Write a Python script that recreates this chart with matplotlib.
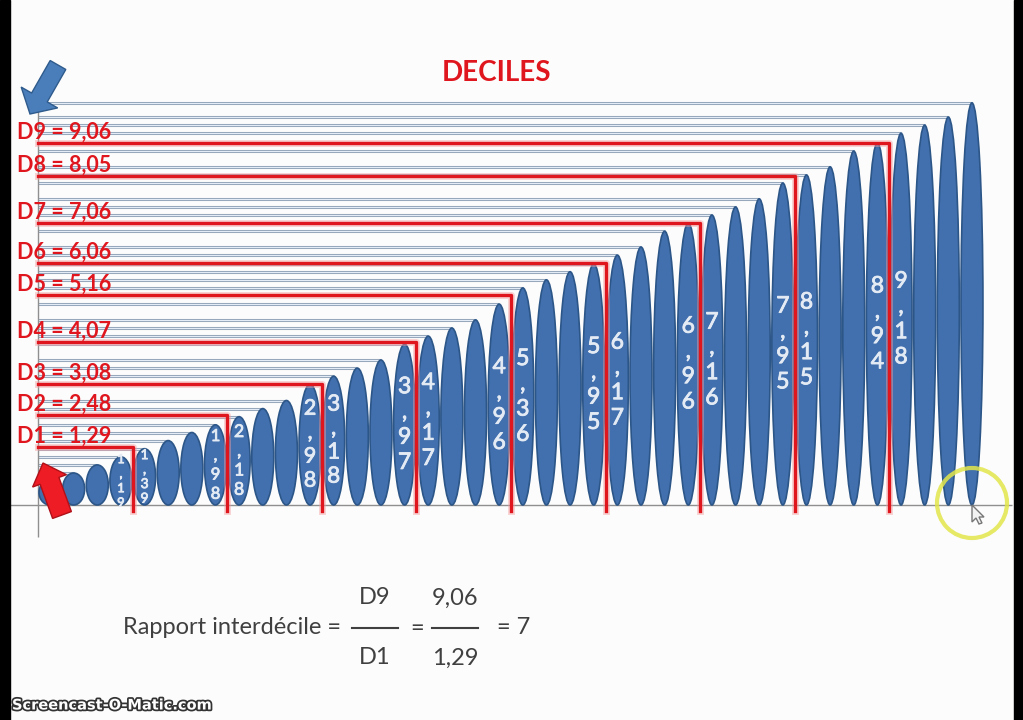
import matplotlib.pyplot as plt
from matplotlib.patches import Ellipse, FancyArrow, Circle, Rectangle, Polygon
import matplotlib.patheffects as pe

plt.rcParams['font.family'] = ['Lato', 'DejaVu Sans']

# the 40 observations, sorted (height of each ellipse)
values = [0.62, 0.79, 0.99, 1.19, 1.39, 1.59, 1.79, 1.98, 2.18, 2.38,
          2.58, 2.98, 3.18, 3.38, 3.58, 3.97, 4.17, 4.37, 4.57, 4.96,
          5.36, 5.56, 5.76, 5.95, 6.17, 6.37, 6.76, 6.96, 7.16, 7.36,
          7.56, 7.95, 8.15, 8.35, 8.74, 8.94, 9.18, 9.38, 9.58, 9.93]

# deciles: name, value written, height of the red guide as drawn
decile_names = ['D1', 'D2', 'D3', 'D4', 'D5', 'D6', 'D7', 'D8', 'D9']
decile_values = [1.29, 2.48, 3.08, 4.07, 5.16, 6.06, 7.06, 8.05, 9.06]
decile_levels = [1.43, 2.22, 2.99, 4.02, 5.18, 5.98, 6.96, 8.12, 8.94]

# observations that show their value inside the ellipse
labelled_bars = [4, 5, 8, 9, 12, 13, 16, 17, 20, 21, 24, 25, 28, 29, 32, 33, 36, 37]

title = 'DECILES'
ratio_text = 'Rapport interdécile ='
ratio_num, ratio_den = 'D9', 'D1'
ratio_num_val, ratio_den_val = '9,06', '1,29'
ratio_result = '= 7'

RED = '#e0161e'
BLUE = '#4270ae'
W, H = 1023, 720


def to_x(px):
    return 1 + (px - 50) / 23.64


def to_y(py):
    return (505 - py) / 40.5


def fmt(v):
    return f'{v:.2f}'.replace('.', ',')


fig = plt.figure(figsize=(W / 100, H / 100), dpi=100)
fig.patch.set_facecolor('#fcfcfc')

ax = fig.add_axes([0, 0, 1, 1])
ax.set_xlim(to_x(0), to_x(W))
ax.set_ylim(to_y(H), to_y(0))
ax.axis('off')

left = to_x(38)
xs = list(range(1, len(values) + 1))

# leader lines from the axis to the top of each ellipse
for x, v in zip(xs, values):
    ax.hlines(v, left, x, color='#93a5b9', lw=2.2, zorder=1)
    ax.hlines(v, left, x, color='#e4edf7', lw=0.8, zorder=1.1)

# axes
ax.vlines(left, to_y(537), to_y(100), color='#8f8f8f', lw=1, zorder=2)
ax.hlines(0, to_x(10), to_x(1012), color='#8f8f8f', lw=1, zorder=2)

# ellipses
for x, v in zip(xs, values):
    e = Ellipse((x, v / 2), 0.93, v, fc=BLUE, ec='#2c5688', lw=1.2, zorder=3)
    ax.add_patch(e)
    if x in labelled_bars:
        t = ax.text(x, v / 2, '\n'.join(fmt(v)), ha='center', va='center',
                    color='#e4ebf4', fontsize=min(16.5, 5 + 3.5 * v),
                    linespacing=1.25, zorder=4,
                    path_effects=[pe.withStroke(linewidth=0.6, foreground='#e4ebf4')])
        t.set_clip_path(e)

# red decile guides and labels
for k, (name, dv, lvl) in enumerate(zip(decile_names, decile_values, decile_levels), start=1):
    xr = 4 * k + 0.5
    ax.plot([left, xr, xr], [lvl, lvl, -0.15], color='#f5a0a3', lw=5, alpha=0.45, zorder=5)
    ax.plot([left, xr, xr], [lvl, lvl, -0.15], color=RED, lw=2.4, zorder=5.1)
    ax.text(to_x(17), lvl + 0.26, f'{name} = {fmt(dv)}', color=RED, fontsize=15.5,
            fontweight='bold', ha='left', va='center', zorder=6)

# overlay in pixel coordinates for title, arrows, formula, screen details
ov = fig.add_axes([0, 0, 1, 1], zorder=5)
ov.set_xlim(0, W)
ov.set_ylim(H, 0)
ov.axis('off')
ov.patch.set_alpha(0)

ov.text(497, 73, title, ha='center', va='center', color=RED, fontsize=20, fontweight='bold')

ov.add_patch(FancyArrow(58, 65, -28, 49, width=18, head_width=42, head_length=19,
                        length_includes_head=True, fc='#4a7ebb', ec='#2f5b8c', lw=1))
ov.add_patch(FancyArrow(62, 515, -19, -52, width=20, head_width=36, head_length=19,
                        length_includes_head=True, fc='#ee1c24', ec='#b01018', lw=1))

# formula
gray = '#404040'
fs = 17
ov.text(123, 628, ratio_text, ha='left', va='center', fontsize=fs, color=gray)
ov.text(375, 598, ratio_num, ha='center', va='center', fontsize=fs, color=gray)
ov.text(375, 658, ratio_den, ha='center', va='center', fontsize=fs, color=gray)
ov.plot([352, 398], [628, 628], color=gray, lw=1.5)
ov.text(417, 628, '=', ha='center', va='center', fontsize=fs, color=gray)
ov.text(455, 598, ratio_num_val, ha='center', va='center', fontsize=fs, color=gray)
ov.text(455, 658, ratio_den_val, ha='center', va='center', fontsize=fs, color=gray)
ov.plot([432, 478], [628, 628], color=gray, lw=1.5)
ov.text(497, 628, ratio_result, ha='left', va='center', fontsize=fs, color=gray)

# screen recording details
ov.add_patch(Circle((972, 503), 35, fill=False, ec='#e2e64a', lw=3, alpha=0.85))
cur = [(0, 0), (0, 17), (4, 13), (7, 19), (10, 18), (7, 12), (12, 12)]
ov.add_patch(Polygon([(972 + a, 505 + b) for a, b in cur], fc='#f2f2f2', ec='#777777', lw=1))
ov.add_patch(Rectangle((0, 0), 10, H, color='black'))
ov.add_patch(Rectangle((1014, 0), 9, H, color='black'))
ov.text(12, 705, 'Screencast-O-Matic.com', ha='left', va='center', color='white',
        fontsize=10.5, fontweight='bold', family='DejaVu Sans',
        path_effects=[pe.withStroke(linewidth=2.5, foreground='#333333')])

fig.savefig('out.png', dpi=100)
